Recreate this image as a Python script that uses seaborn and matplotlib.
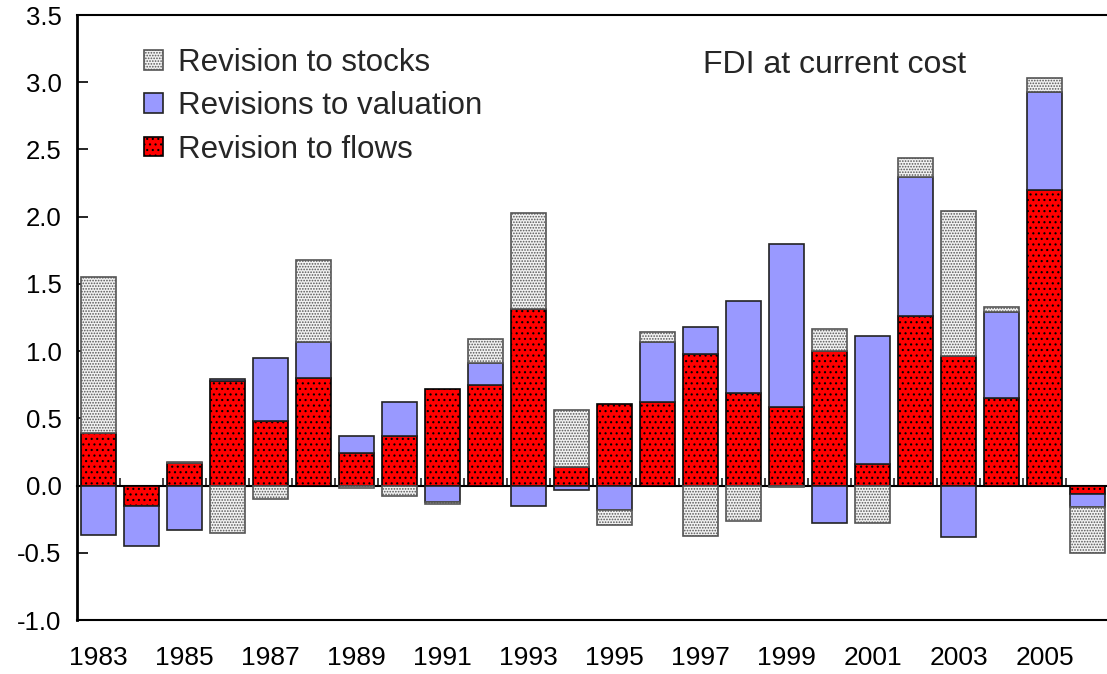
import matplotlib
matplotlib.use("Agg")
import matplotlib.pyplot as plt
import matplotlib.patches as mpatches
import numpy as np
import pandas as pd
import seaborn as sns

years = [str(y) for y in range(1983, 2007)]
flows = [0.39, -0.15, 0.165, 0.78, 0.48, 0.80, 0.24, 0.37, 0.715, 0.745, 1.31, 0.135,
         0.605, 0.625, 0.98, 0.69, 0.585, 1.00, 0.16, 1.26, 0.96, 0.65, 2.20, -0.06]
valuation = [-0.37, -0.30, -0.33, 0.01, 0.47, 0.265, 0.13, 0.255, -0.12, 0.17, -0.15, -0.03,
             -0.185, 0.44, 0.20, 0.685, 1.21, -0.28, 0.95, 1.035, -0.385, 0.64, 0.725, -0.10]
stocks = [1.16, 0.0, 0.01, -0.35, -0.10, 0.615, -0.02, -0.08, -0.02, 0.175, 0.72, 0.43,
          -0.105, 0.075, -0.375, -0.26, -0.01, 0.165, -0.28, 0.14, 1.08, 0.035, 0.105, -0.345]
year_labels = [y if i % 2 == 0 else "" for i, y in enumerate(years)]

sns.set_style("white")
plt.rcParams['font.family'] = ['Liberation Sans', 'DejaVu Sans']
plt.rcParams['hatch.linewidth'] = 0.8

df = pd.DataFrame({"year": years, "flows": flows, "valuation": valuation, "stocks": stocks})

fig = plt.figure(figsize=(11.07, 6.74), dpi=100)
ax = fig.add_axes([77 / 1107, 54 / 674, 1032 / 1107, 605 / 674])

# (column, face, edge, hatch, legend label)
layers = [
    ("flows", "#ff0000", "black", "...", "Revision to flows"),
    ("valuation", "#9999ff", "#222222", None, "Revisions to valuation"),
    ("stocks", "#f2f2f2", "#555555", "......", "Revision to stocks"),
]

pos = np.zeros(len(df))
neg = np.zeros(len(df))
handles = {}
for col, face, edge, hatch, label in layers:
    v = df[col].to_numpy()
    bottom = np.where(v >= 0, pos, neg)
    sns.barplot(data=df, x="year", y=col, bottom=bottom, color=face, saturation=1,
                width=0.81, edgecolor=edge, linewidth=1.2, hatch=hatch,
                errorbar=None, ax=ax)
    for patch, val in zip(ax.containers[-1], v):
        if val == 0:
            patch.set_linewidth(0)
    pos = np.where(v >= 0, pos + v, pos)
    neg = np.where(v < 0, neg + v, neg)
    handles[col] = mpatches.Patch(facecolor=face, edgecolor=edge, hatch=hatch,
                                  linewidth=1.2, label=label)

ymin, ymax = -1.0, 3.5
ax.set_ylim(ymin, ymax)
ax.set_xlim(-0.5, len(years) - 0.5)
ax.set_yticks(np.arange(-1.0, 3.51, 0.5))
ax.set_yticklabels([f"{t:.1f}" for t in np.arange(-1.0, 3.51, 0.5)])
ax.set_xticks(range(len(years)))
ax.set_xticklabels(year_labels)
ax.set_xlabel("")
ax.set_ylabel("")
ax.tick_params(axis="y", direction="in", length=8, width=1.2, labelsize=18.5, pad=11,
               colors="black", left=True)
ax.tick_params(axis="x", length=0, labelsize=19, pad=19, colors="black")

for side in ["left", "top", "bottom"]:
    ax.spines[side].set_visible(True)
    ax.spines[side].set_color("black")
ax.spines["left"].set_linewidth(2.0)
ax.spines["top"].set_linewidth(1.5)
ax.spines["bottom"].set_linewidth(1.5)
ax.spines["right"].set_visible(False)

# zero line with small tick marks between the bars
zero_axis = ax.secondary_xaxis((0 - ymin) / (ymax - ymin))
zero_axis.set_xticks(np.arange(0.5, len(years) - 1, 1.0))
zero_axis.tick_params(direction="in", length=6, width=1.2, labelbottom=False, labeltop=False)
for s in zero_axis.spines.values():
    s.set_linewidth(1.5)
    s.set_color("black")

ax.legend(handles=[handles["stocks"], handles["valuation"], handles["flows"]],
          loc="upper left", bbox_to_anchor=(0.065, 0.945), frameon=False,
          fontsize=22.5, handlelength=0.6, handleheight=0.6, handletextpad=0.5,
          labelspacing=0.42, borderpad=0, borderaxespad=0)

ax.text(0.734, 0.918, "FDI at current cost", transform=ax.transAxes,
        ha="center", va="center", fontsize=23)

fig.savefig("out.png", dpi=100)
